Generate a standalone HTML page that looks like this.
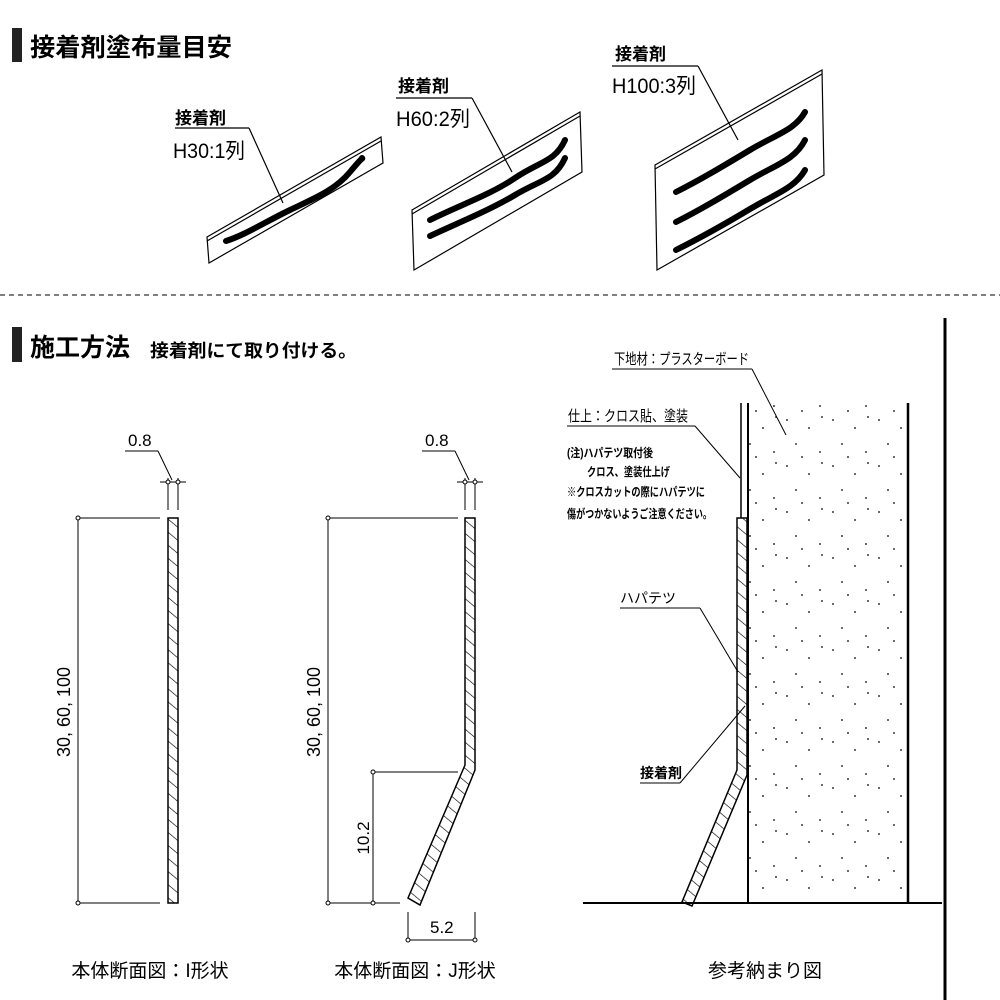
<!DOCTYPE html>
<html><head><meta charset="utf-8"><style>
html,body{margin:0;padding:0;background:#fff;}
svg{display:block;}
text{font-family:"Liberation Sans","Noto Sans CJK JP",sans-serif;fill:#000;}
</style></head><body>
<svg width="1000" height="1000" viewBox="0 0 1000 1000" xmlns="http://www.w3.org/2000/svg">
<defs>
<pattern id="hat" width="10" height="10" patternUnits="userSpaceOnUse" patternTransform="rotate(-50)">
<line x1="0" y1="0" x2="0" y2="10" stroke="#000" stroke-width="1.3"/>
</pattern>
<pattern id="dots" width="46" height="46" patternUnits="userSpaceOnUse">
<circle cx="5" cy="6" r="0.9" fill="#000"/><circle cx="27" cy="14" r="0.9" fill="#000"/>
<circle cx="14" cy="30" r="0.9" fill="#000"/><circle cx="38" cy="38" r="0.9" fill="#000"/>
<circle cx="40" cy="3" r="0.9" fill="#000"/><circle cx="20" cy="43" r="0.9" fill="#000"/>
</pattern>
</defs>
<!-- Title 1 -->
<rect x="12" y="28" width="10" height="34" fill="#222"/>
<text x="30" y="56" font-size="25" font-weight="bold" textLength="202" lengthAdjust="spacingAndGlyphs">接着剤塗布量目安</text>

<!-- Panel 1 -->
<g stroke="#000" fill="none" stroke-width="1.2">
<polygon points="207,237 381,137 383,163 209,263" fill="#fff"/>
<line x1="207" y1="241" x2="381" y2="141"/>
<path d="M226,241 C245,235 265,222 290,210 S335,190 350,172 S362,160 362,158" stroke-width="6" stroke-linecap="round"/>
<line x1="175" y1="128" x2="249" y2="128"/>
<line x1="249" y1="128" x2="283" y2="203"/>
</g>
<text x="175" y="124" font-size="17" font-weight="bold">接着剤</text>
<text x="173" y="158" font-size="21" textLength="72" lengthAdjust="spacingAndGlyphs">H30:1列</text>

<!-- Panel 2 -->
<g stroke="#000" fill="none" stroke-width="1.2">
<polygon points="412,210 580,112 582,172 414,270" fill="#fff"/>
<line x1="412" y1="214" x2="580" y2="116"/>
<path d="M430,220 C460,205 490,195 515,178 S555,162 565,140" stroke-width="6" stroke-linecap="round"/>
<path d="M430,236 C460,222 490,210 515,195 S555,180 565,158" stroke-width="6" stroke-linecap="round"/>
<line x1="396" y1="98" x2="472" y2="98"/>
<line x1="472" y1="98" x2="512" y2="172"/>
</g>
<text x="398" y="92" font-size="17" font-weight="bold">接着剤</text>
<text x="396" y="126" font-size="21" textLength="74" lengthAdjust="spacingAndGlyphs">H60:2列</text>

<!-- Panel 3 -->
<g stroke="#000" fill="none" stroke-width="1.2">
<polygon points="655,165 822,70 824,175 657,270" fill="#fff"/>
<line x1="655" y1="169" x2="822" y2="74"/>
<path d="M676,192 C700,180 725,165 750,150 S795,130 805,112" stroke-width="6" stroke-linecap="round"/>
<path d="M676,222 C700,210 725,195 750,180 S795,160 805,140" stroke-width="6" stroke-linecap="round"/>
<path d="M676,250 C700,238 725,224 750,209 S795,188 805,170" stroke-width="6" stroke-linecap="round"/>
<line x1="612" y1="66" x2="698" y2="66"/>
<line x1="698" y1="66" x2="738" y2="140"/>
</g>
<text x="615" y="60" font-size="17" font-weight="bold">接着剤</text>
<text x="612" y="93" font-size="21" textLength="84" lengthAdjust="spacingAndGlyphs">H100:3列</text>

<line x1="0" y1="295" x2="1000" y2="295" stroke="#000" stroke-width="1" stroke-dasharray="5,4"/>

<!-- Title 2 -->
<rect x="12" y="327" width="10" height="35" fill="#222"/>
<text x="30" y="356" font-size="25" font-weight="bold" textLength="100" lengthAdjust="spacingAndGlyphs">施工方法</text>
<text x="150" y="357" font-size="18" font-weight="bold" textLength="207" lengthAdjust="spacingAndGlyphs">接着剤にて取り付ける。</text>
<line x1="945" y1="318" x2="945" y2="1000" stroke="#000" stroke-width="3"/>

<!-- I shape -->
<g stroke="#000" fill="none" stroke-width="1">
<rect x="168" y="518" width="10" height="385" fill="url(#hat)" stroke-width="1.5"/>
<line x1="78" y1="518" x2="78" y2="903"/>
<line x1="78" y1="518" x2="160" y2="518"/>
<line x1="78" y1="903" x2="160" y2="903"/>
<line x1="168" y1="478" x2="168" y2="510"/><line x1="178" y1="478" x2="178" y2="510"/>
<line x1="160" y1="482" x2="186" y2="482"/>
<line x1="125" y1="451" x2="158" y2="451"/><line x1="158" y1="451" x2="172" y2="480"/>
</g>
<g fill="#fff" stroke="#000"><circle cx="78" cy="518" r="2"/><circle cx="78" cy="903" r="2"/><circle cx="168" cy="482" r="2"/><circle cx="178" cy="482" r="2"/></g>
<text x="128" y="446" font-size="17">0.8</text>
<text transform="translate(70,712) rotate(-90)" font-size="18" text-anchor="middle">30, 60, 100</text>
<text x="150" y="977" font-size="19" text-anchor="middle">本体断面図：I形状</text>

<!-- J shape -->
<g stroke="#000" fill="none" stroke-width="1">
<polygon points="465,518 475,518 475,770 420,905 408,898 465,765" fill="url(#hat)" stroke-width="1.5"/>
<line x1="328" y1="518" x2="328" y2="903"/>
<line x1="328" y1="518" x2="458" y2="518"/>
<line x1="328" y1="903" x2="400" y2="903"/>
<line x1="373" y1="772" x2="373" y2="903"/>
<line x1="373" y1="772" x2="458" y2="772"/>
<line x1="465" y1="478" x2="465" y2="510"/><line x1="475" y1="478" x2="475" y2="510"/>
<line x1="457" y1="482" x2="483" y2="482"/>
<line x1="422" y1="451" x2="455" y2="451"/><line x1="455" y1="451" x2="469" y2="480"/>
<line x1="408" y1="912" x2="408" y2="942"/><line x1="475" y1="912" x2="475" y2="942"/>
<line x1="408" y1="940" x2="475" y2="940"/>
</g>
<g fill="#fff" stroke="#000"><circle cx="328" cy="518" r="2"/><circle cx="328" cy="903" r="2"/><circle cx="373" cy="772" r="2"/><circle cx="373" cy="903" r="2"/><circle cx="465" cy="482" r="2"/><circle cx="475" cy="482" r="2"/><circle cx="408" cy="940" r="2"/><circle cx="475" cy="940" r="2"/></g>
<text x="425" y="446" font-size="17">0.8</text>
<text x="430" y="933" font-size="17">5.2</text>
<text transform="translate(369,838) rotate(-90)" font-size="17" text-anchor="middle">10.2</text>
<text transform="translate(320,712) rotate(-90)" font-size="18" text-anchor="middle">30, 60, 100</text>
<text x="415" y="977" font-size="19" text-anchor="middle">本体断面図：J形状</text>

<!-- Reference -->
<rect x="748" y="403" width="160" height="500" fill="url(#dots)"/>
<g stroke="#000" fill="none">
<line x1="741" y1="403" x2="741" y2="518" stroke-width="1.5"/>
<line x1="748" y1="403" x2="748" y2="903" stroke-width="2"/>
<line x1="908" y1="403" x2="908" y2="903" stroke-width="2.5"/>
<line x1="583" y1="903" x2="942" y2="903" stroke-width="2"/>
<polygon points="737,518 747,518 747,775 692,906 682,902 737,770" fill="url(#hat)" stroke-width="1.5"/>
<line x1="612" y1="369" x2="752" y2="369" stroke-width="1"/>
<line x1="752" y1="369" x2="786" y2="435" stroke-width="1"/>
<line x1="567" y1="426" x2="695" y2="426" stroke-width="1"/>
<line x1="695" y1="426" x2="740" y2="478" stroke-width="1"/>
<line x1="620" y1="608" x2="700" y2="608" stroke-width="1"/>
<line x1="700" y1="608" x2="738" y2="672" stroke-width="1"/>
<line x1="640" y1="783" x2="680" y2="783" stroke-width="1"/>
<line x1="680" y1="783" x2="745" y2="706" stroke-width="1"/>
</g>
<text x="614" y="364" font-size="15" textLength="135" lengthAdjust="spacingAndGlyphs">下地材：プラスターボード</text>
<text x="568" y="421" font-size="15" textLength="120" lengthAdjust="spacingAndGlyphs">仕上：クロス貼、塗装</text>
<text x="567" y="457" font-size="12" font-weight="bold" textLength="86" lengthAdjust="spacingAndGlyphs">(注)ハパテツ取付後</text>
<text x="587" y="476" font-size="12" font-weight="bold" textLength="83" lengthAdjust="spacingAndGlyphs">クロス、塗装仕上げ</text>
<text x="567" y="496" font-size="12" font-weight="bold" textLength="138" lengthAdjust="spacingAndGlyphs">※クロスカットの際にハパテツに</text>
<text x="567" y="518" font-size="12" font-weight="bold" textLength="145" lengthAdjust="spacingAndGlyphs">傷がつかないようご注意ください。</text>
<text x="620" y="603" font-size="14">ハパテツ</text>
<text x="640" y="778" font-size="14" font-weight="bold">接着剤</text>
<text x="765" y="977" font-size="19" text-anchor="middle">参考納まり図</text>
</svg>
</body></html>
